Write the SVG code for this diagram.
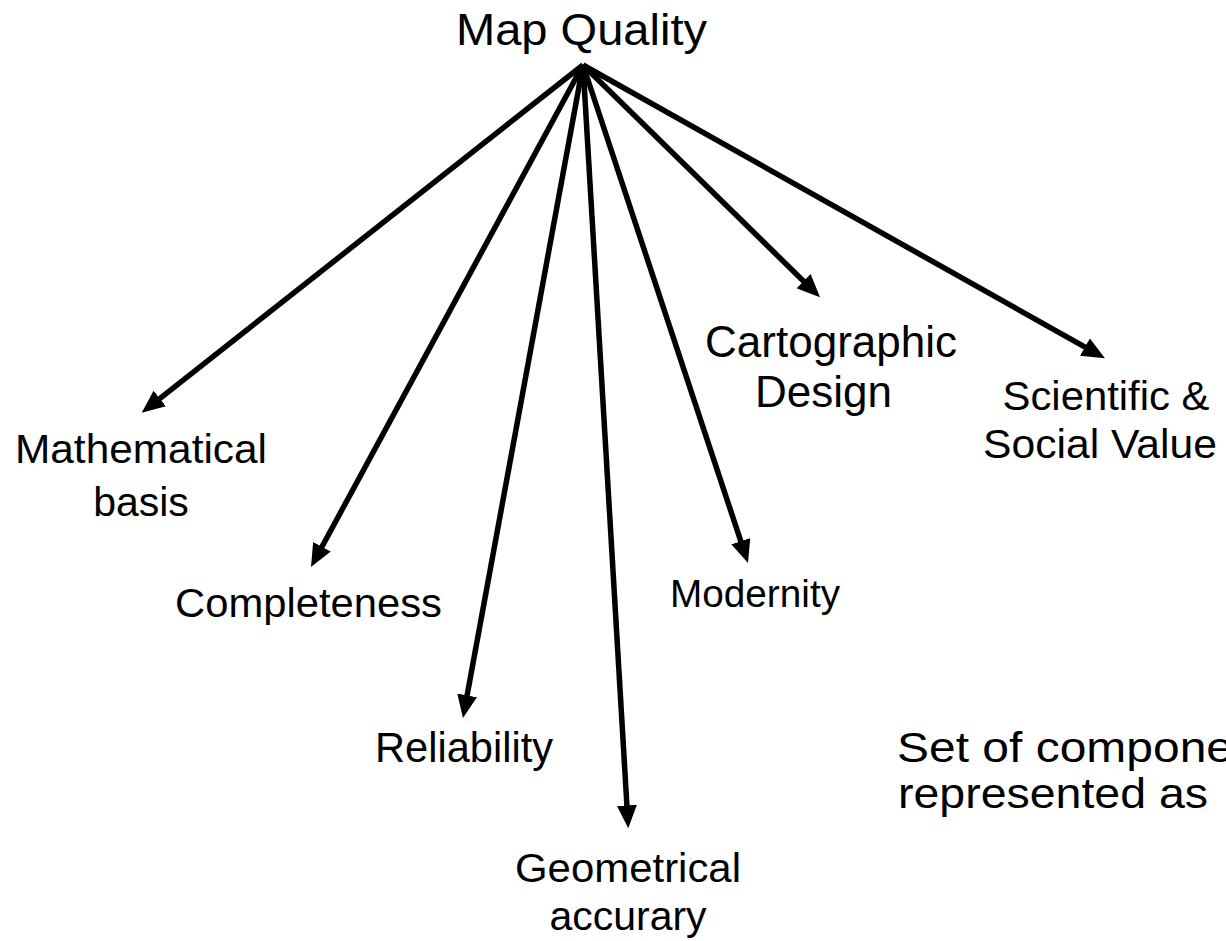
<svg xmlns="http://www.w3.org/2000/svg" width="1226" height="941" viewBox="0 0 1226 941">
  <style>
    text { font-family: "Liberation Sans", Arial, sans-serif; fill: #000; }
    .mid { text-anchor: middle; }
    .edge { stroke: #000; stroke-width: 5.5; fill: none; marker-end: url(#head); }
  </style>
  <defs>
    <marker id="head" markerUnits="userSpaceOnUse" markerWidth="23" markerHeight="20" refX="15" refY="10" orient="auto">
      <path d="M0,0 L23,10 L0,20 z" fill="#000"/>
    </marker>
  </defs>
  <rect width="1226" height="941" fill="#fff"/>

  <!-- connectors fanning out from the root -->
  <g id="connectors">
    <line class="edge" x1="583" y1="65" x2="148" y2="407.8"/>
    <line class="edge" x1="583" y1="65" x2="314.8" y2="560"/>
    <line class="edge" x1="583" y1="65" x2="464.4" y2="710.1"/>
    <line class="edge" x1="583" y1="65" x2="627.8" y2="820.3"/>
    <line class="edge" x1="583" y1="65" x2="745.5" y2="555.4"/>
    <line class="edge" x1="583" y1="65" x2="814.3" y2="291.7"/>
    <line class="edge" x1="583" y1="65" x2="1098" y2="354.4"/>
  </g>

  <g id="map-quality">
    <text class="mid" x="581.5" y="45" font-size="44" textLength="251" lengthAdjust="spacingAndGlyphs">Map Quality</text>
  </g>
  <g id="mathematical-basis">
    <text class="mid" x="141" y="463" font-size="41" textLength="252" lengthAdjust="spacingAndGlyphs">Mathematical</text>
    <text class="mid" x="141" y="516" font-size="41">basis</text>
  </g>
  <g id="completeness">
    <text class="mid" x="308.5" y="617" font-size="41" textLength="267" lengthAdjust="spacingAndGlyphs">Completeness</text>
  </g>
  <g id="reliability">
    <text class="mid" x="464" y="762" font-size="42" textLength="178" lengthAdjust="spacingAndGlyphs">Reliability</text>
  </g>
  <g id="geometrical-accuracy">
    <text class="mid" x="628" y="882" font-size="41" textLength="226" lengthAdjust="spacingAndGlyphs">Geometrical</text>
    <text class="mid" x="628" y="930" font-size="41">accurary</text>
  </g>
  <g id="modernity">
    <text class="mid" x="755" y="607" font-size="38" textLength="170" lengthAdjust="spacingAndGlyphs">Modernity</text>
  </g>
  <g id="cartographic-design">
    <text x="957" y="357" font-size="44" text-anchor="end">Cartographic</text>
    <text class="mid" x="823.5" y="407" font-size="44">Design</text>
  </g>
  <g id="scientific-social-value">
    <text class="mid" x="1106" y="410" font-size="41" textLength="207" lengthAdjust="spacingAndGlyphs">Scientific &amp;</text>
    <text class="mid" x="1100" y="458" font-size="41" textLength="234" lengthAdjust="spacingAndGlyphs">Social Value</text>
  </g>
  <g id="note">
    <text x="897" y="762" font-size="43" textLength="336" lengthAdjust="spacingAndGlyphs">Set of compone</text>
    <text x="898" y="808" font-size="43" textLength="310" lengthAdjust="spacingAndGlyphs">represented as</text>
  </g>
</svg>
